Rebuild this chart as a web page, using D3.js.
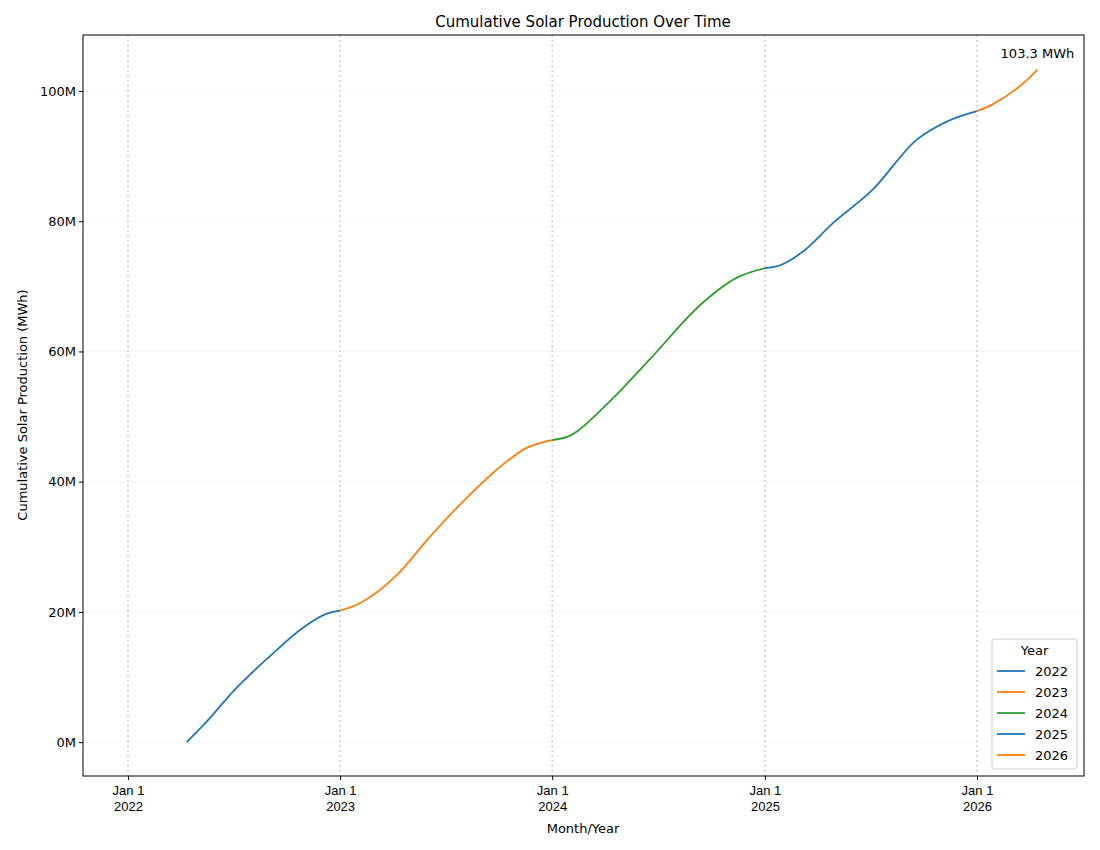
<!DOCTYPE html>
<html><head><meta charset="utf-8">
<script src="https://cdn.jsdelivr.net/npm/d3@7"></script>
<style>body{margin:0;background:#fff;font-family:"DejaVu Sans",sans-serif;}</style>
</head><body><svg id="c" width="1100" height="850"></svg>
<script>
const years=[2022,2023,2024,2025,2026];
const colors=["#1f77b4","#ff7f0e","#2ca02c","#1f77b4","#ff7f0e"];
const dates=["2022-04-12","2022-05-16","2022-07-03","2022-09-01","2022-10-28","2022-12-08",
"2023-01-01","2023-02-03","2023-04-08","2023-06-04","2023-07-31","2023-09-27","2023-11-18",
"2024-01-01","2024-01-30","2024-04-03","2024-06-16","2024-09-15","2024-11-13",
"2025-01-01","2025-01-23","2025-03-07","2025-04-28","2025-07-05","2025-09-19","2025-11-10",
"2026-01-01","2026-01-27","2026-03-28","2026-04-15"];
const values=[0,3.1,8.0,13.1,17.5,19.7,
20.2,21.3,25.6,31.5,36.9,41.8,45.2,
46.4,47.0,51.8,58.7,67.4,71.3,
72.8,73.1,75.3,79.7,84.8,92.5,95.3,
96.9,97.9,101.7,103.3];
const yTicks=[0,20,40,60,80,100];
const xTicks=[2022,2023,2024,2025,2026];

const svg=d3.select("#c");
const L=83,R=1084,T=35,B=776;
const pd=s=>{const [a,b,c]=s.split("-").map(Number);return new Date(a,b-1,c);};
const x0=d3.scaleTime().domain([new Date(2022,0,1),new Date(2026,0,1)]).range([128,977]);
const x=d3.scaleTime().domain([x0.invert(L),x0.invert(R)]).range([L,R]);
const y=d3.scaleLinear().domain([-5.2,108.6]).range([B,T]);
const data=dates.map((d,i)=>({d:pd(d),v:values[i]}));

svg.append("g").selectAll("line").data(yTicks).join("line")
 .attr("x1",L).attr("x2",R).attr("y1",d=>y(d)).attr("y2",d=>y(d))
 .attr("stroke","#e6e6e6").attr("stroke-dasharray","1.5,2.5");
svg.append("g").selectAll("line").data(xTicks).join("line")
 .attr("y1",T).attr("y2",B).attr("x1",d=>x(new Date(d,0,1))).attr("x2",d=>x(new Date(d,0,1)))
 .attr("stroke","#cccccc").attr("stroke-width",1.5).attr("stroke-dasharray","2,3");

const line=d3.line().x(d=>x(d.d)).y(d=>y(d.v)).curve(d3.curveMonotoneX);
years.forEach((yr,i)=>{
  const seg=data.filter(p=>p.d.getFullYear()===yr||(p.d.getFullYear()===yr+1&&p.d.getMonth()===0&&p.d.getDate()===1));
  svg.append("path").datum(seg).attr("d",line).attr("fill","none").attr("stroke",colors[i]).attr("stroke-width",1.8);
});

const xa=svg.append("g").attr("transform",`translate(0,${B})`)
 .call(d3.axisBottom(x).tickValues(xTicks.map(v=>new Date(v,0,1))).tickSizeOuter(0).tickSize(4).tickFormat(()=>""));
xa.select(".domain").remove();
xa.selectAll(".tick").each(function(d){
  const g=d3.select(this);
  g.append("text").attr("y",19).attr("fill","#000").attr("font-size",13).attr("text-anchor","middle").text("Jan 1");
  g.append("text").attr("y",35).attr("fill","#000").attr("font-size",13).attr("text-anchor","middle").text(d.getFullYear());
});
const ya=svg.append("g").attr("transform",`translate(${L},0)`)
 .call(d3.axisLeft(y).tickValues(yTicks).tickSize(4).tickFormat(d=>d+"M"));
ya.select(".domain").remove();
ya.selectAll("text").attr("font-size",13).attr("fill","#000").attr("font-family","DejaVu Sans");
svg.append("rect").attr("x",L).attr("y",T).attr("width",R-L).attr("height",B-T).attr("fill","none").attr("stroke","#000");

svg.append("text").attr("x",583).attr("y",27).attr("text-anchor","middle").attr("font-size",15).text("Cumulative Solar Production Over Time");
svg.append("text").attr("x",583).attr("y",833).attr("text-anchor","middle").attr("font-size",13).text("Month/Year");
svg.append("text").attr("transform","translate(27,405) rotate(-90)").attr("text-anchor","middle").attr("font-size",13).text("Cumulative Solar Production (MWh)");

const last=data[data.length-1];
svg.append("text").attr("x",x(last.d)).attr("y",y(last.v)-12).attr("text-anchor","middle").attr("font-size",13).text(last.v.toFixed(1)+" MWh");

const lg=svg.append("g").attr("transform","translate(992,639)");
lg.append("rect").attr("width",85).attr("height",130).attr("rx",3).attr("fill","#fff").attr("stroke","#ccc");
lg.append("text").attr("x",42.5).attr("y",16).attr("text-anchor","middle").attr("font-size",13).text("Year");
years.forEach((yr,i)=>{
  const yy=32+i*21;
  lg.append("line").attr("x1",5).attr("x2",33).attr("y1",yy).attr("y2",yy).attr("stroke",colors[i]).attr("stroke-width",1.8);
  lg.append("text").attr("x",43).attr("y",yy+4.5).attr("font-size",13).text(yr);
});
</script></body></html>
